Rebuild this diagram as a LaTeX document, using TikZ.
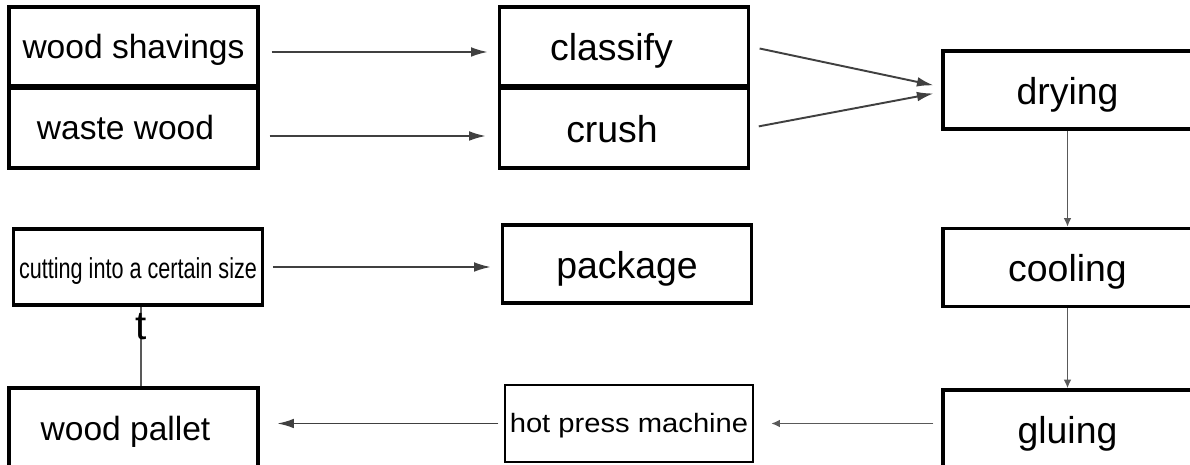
\documentclass[tikz,border=0pt]{standalone}
\usepackage{fontspec}
\setmainfont{Liberation Sans}
\newfontfamily\widefont{Liberation Sans}[FakeStretch=1.1]
\newfontfamily\narrowfont{Liberation Sans}[FakeStretch=0.75]
\usetikzlibrary{arrows.meta}
\begin{document}
\begin{tikzpicture}[x=0.02cm, y=-0.02cm,
  box/.style={draw, line width=1.9pt, inner sep=0pt, minimum width=4.98cm, minimum height=1.6cm},
  big/.style={font=\fontsize{21.3pt}{24pt}\selectfont, text height=20.9pt, text depth=4.5pt},
  mid/.style={font=\fontsize{19.1pt}{22pt}\selectfont, text height=17.2pt, text depth=4pt},
  flow/.style={draw=black!75, line width=1.1pt, -{Latex[length=9.5pt,width=5.5pt]}},
  thin/.style={draw=black!65, line width=1pt, -{Latex[length=5pt,width=4.5pt]}}]
\useasboundingbox (0,0) rectangle (1190,465);
\clip (0,0) rectangle (1190,465);
% raw material and first steps
\node[box,mid,minimum height=1.58cm] (shav) at (133.5,46.5) {wood shavings};
\node[box,mid] (waste) at (133.5,128) {\hspace*{-0.32cm}waste wood};
\node[box,big,minimum height=1.58cm] (clas) at (624,46.5) {\hspace*{-0.5cm}classify};
\node[box,big] (crush) at (624,128) {\hspace*{-0.48cm}crush};
% right column
\foreach \nm/\y/\txt in {dry/90/drying, cool/267.5/cooling, glue/429/gluing}
  \node[box,big,minimum height=1.56cm] (\nm) at (1067.5,\y) {\txt};
% lower rows
\node[box,minimum height=1.52cm,font=\narrowfont\fontsize{16.4pt}{19pt}\selectfont,
  text height=16.3pt,text depth=3.5pt] (cut) at (138,267) {cutting into a certain size};
\node[box,big,minimum height=1.56cm] (pack) at (627,264) {package};
\node[box,mid,minimum height=1.64cm] (pallet) at (133.5,429) {\hspace*{-0.32cm}wood pallet};
\node[box,minimum height=1.54cm,minimum width=4.96cm,line width=1.5pt,
  font=\widefont\fontsize{15.1pt}{18pt}\selectfont,text height=13pt,text depth=3.2pt] (press) at (629,423.5) {hot press machine};
% connectors
\draw[flow,shorten <=6.8pt,shorten >=5.7pt] ([yshift=-0.11cm]shav.east) -- ([yshift=-0.11cm]clas.west);
\draw[flow,shorten <=5.7pt,shorten >=6.8pt] ([yshift=-0.16cm]waste.east) -- ([yshift=-0.16cm]crush.west);
\draw[flow,shorten <=5.5pt,shorten >=4.5pt] (clas.east) -- ([yshift=0.06cm]dry.west);
\draw[flow,shorten <=5pt,shorten >=4.5pt] (crush.east) -- ([yshift=-0.04cm]dry.west);
\draw[thin] (dry.south) -- (cool.north);
\draw[thin] (cool.south) -- (glue.north);
\draw[thin,shorten <=4.5pt,shorten >=9.6pt] (press.east -| glue.west) -- (press.east);
\draw[flow,shorten <=3pt,shorten >=10pt] (press.west) -- (press.west -| pallet.east);
\draw[flow,shorten <=5pt,shorten >=5.7pt] (cut.east) -- (cut.east -| pack.west);
% pallet up to cutting, tip printed as a letter
\coordinate (tfoot) at ([xshift=0.15cm]pallet.north);
\coordinate (thead) at (tfoot |- cut.south);
\draw[draw=black!65, line width=1.1pt] (tfoot) -- (thead);
\node[inner sep=0pt,anchor=north,font=\fontsize{23pt}{26pt}\selectfont] (tee) at ([yshift=-0.12cm]thead) {t};
\end{tikzpicture}
\end{document}
